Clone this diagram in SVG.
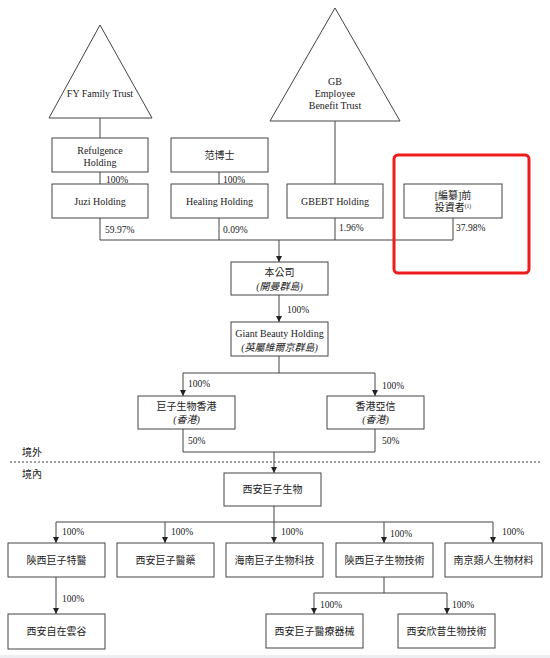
<svg xmlns="http://www.w3.org/2000/svg" width="550" height="658" viewBox="0 0 550 658">
<defs>
<style>
text{font-family:"Liberation Serif","Noto Sans CJK TC",serif;font-size:10px;fill:#222;text-anchor:middle}
.l{text-anchor:start}
.p{font-size:9.5px;text-anchor:start}
.i{font-style:italic}
.sup{font-size:5.5px}
.box{fill:#fff;stroke:#444;stroke-width:1}
.tri{fill:#fff;stroke:#444;stroke-width:1}
.ln{fill:none;stroke:#444;stroke-width:1}
.ar{fill:none;stroke:#444;stroke-width:1;marker-end:url(#ah)}
</style>
<marker id="ah" viewBox="0 0 6 6" refX="6" refY="3" markerWidth="6" markerHeight="6" markerUnits="userSpaceOnUse" orient="auto">
<path d="M0,0 L6,3 L0,6 z" fill="#222"/>
</marker>
</defs>
<rect width="550" height="658" fill="#fff"/>

<g id="connectors">
<line class="ln" x1="100" y1="118" x2="100" y2="138"/>
<line class="ln" x1="335" y1="121" x2="335" y2="184"/>
<line class="ln" x1="100" y1="172" x2="100" y2="184"/>
<line class="ln" x1="219" y1="172" x2="219" y2="184"/>
<polyline class="ln" points="100,218 100,240 453,240 453,218"/>
<line class="ln" x1="219" y1="218" x2="219" y2="240"/>
<line class="ln" x1="335" y1="218" x2="335" y2="240"/>
<line class="ar" x1="279" y1="240" x2="279" y2="262"/>
<line class="ar" x1="279" y1="295" x2="279" y2="322"/>
<polyline class="ln" points="279,356 279,373"/>
<polyline class="ar" points="279,373 183,373 183,396"/>
<polyline class="ar" points="279,373 375,373 375,396"/>
<polyline class="ln" points="183,429 183,452 375,452 375,429"/>
<line class="ar" x1="274" y1="452" x2="274" y2="473"/>
<line class="ln" x1="274" y1="506" x2="274" y2="522"/>
<line class="ln" x1="56" y1="522" x2="493" y2="522"/>
<line class="ar" x1="56" y1="522" x2="56" y2="543"/>
<line class="ar" x1="165" y1="522" x2="165" y2="543"/>
<line class="ar" x1="274" y1="522" x2="274" y2="543"/>
<line class="ar" x1="384" y1="522" x2="384" y2="543"/>
<line class="ar" x1="493" y1="522" x2="493" y2="543"/>
<line class="ar" x1="56" y1="577" x2="56" y2="614"/>
<line class="ln" x1="384" y1="577" x2="384" y2="593"/>
<line class="ln" x1="314" y1="593" x2="447" y2="593"/>
<line class="ar" x1="314" y1="593" x2="314" y2="614"/>
<line class="ar" x1="447" y1="593" x2="447" y2="614"/>
<line x1="10" y1="462" x2="540" y2="462" stroke="#444" stroke-width="1" stroke-dasharray="2,2"/>
</g>

<g id="labels">
<text class="p" x="106" y="182.5">100%</text>
<text class="p" x="223" y="182.5">100%</text>
<text class="p" x="105" y="233">59.97%</text>
<text class="p" x="223" y="233">0.09%</text>
<text class="p" x="339" y="231">1.96%</text>
<text class="p" x="456" y="231">37.98%</text>
<text class="p" x="287" y="313">100%</text>
<text class="p" x="188" y="387">100%</text>
<text class="p" x="382" y="389">100%</text>
<text class="p" x="188" y="444">50%</text>
<text class="p" x="382" y="444">50%</text>
<text class="p" x="62" y="535">100%</text>
<text class="p" x="171" y="535">100%</text>
<text class="p" x="281" y="535">100%</text>
<text class="p" x="390" y="537">100%</text>
<text class="p" x="502" y="535">100%</text>
<text class="p" x="62" y="602">100%</text>
<text class="p" x="320" y="608">100%</text>
<text class="p" x="452" y="608">100%</text>
<text class="l" x="22" y="456">境外</text>
<text class="l" x="22" y="478">境內</text>
</g>

<g id="fy-trust">
<polygon class="tri" points="49,118 100,25 152,118"/>
<text x="100" y="96.5">FY Family Trust</text>
</g>
<g id="gb-trust">
<polygon class="tri" points="270,121 335,8 400,121"/>
<text x="335" y="85">GB</text>
<text x="335" y="97">Employee</text>
<text x="335" y="109">Benefit Trust</text>
</g>
<g id="refulgence">
<rect class="box" x="52" y="138" width="96" height="34"/>
<text x="100" y="153.5">Refulgence</text>
<text x="100" y="165.5">Holding</text>
</g>
<g id="dr-fan">
<rect class="box" x="171" y="138" width="97" height="34"/>
<text x="219.5" y="158.5">范博士</text>
</g>
<g id="juzi">
<rect class="box" x="52" y="184" width="96" height="34"/>
<text x="100" y="204.5">Juzi Holding</text>
</g>
<g id="healing">
<rect class="box" x="171" y="184" width="97" height="34"/>
<text x="219.5" y="204.5">Healing Holding</text>
</g>
<g id="gbebt">
<rect class="box" x="287" y="184" width="96" height="34"/>
<text x="335" y="204.5">GBEBT Holding</text>
</g>
<g id="pre-investors">
<rect class="box" x="404" y="184" width="98" height="34"/>
<text x="453" y="198.5">[編纂]前</text>
<text x="453" y="211">投資者<tspan class="sup" dy="-3.5">(1)</tspan></text>
</g>
<g id="highlight">
<rect x="394" y="155" width="135" height="118" rx="4" fill="none" stroke="#ee1c1c" stroke-width="3"/>
</g>
<g id="company">
<rect class="box" x="231" y="262" width="97" height="33"/>
<text x="279.5" y="275.5">本公司</text>
<text class="i" x="279.5" y="289.5">(開曼群島)</text>
</g>
<g id="giant-beauty">
<rect class="box" x="231" y="322" width="97" height="34"/>
<text x="279.5" y="336.5">Giant Beauty Holding</text>
<text class="i" x="279.5" y="350.5">(英屬維爾京群島)</text>
</g>
<g id="juzi-hk">
<rect class="box" x="138" y="396" width="97" height="33"/>
<text x="186.5" y="409.5">巨子生物香港</text>
<text class="i" x="186.5" y="422.5">(香港)</text>
</g>
<g id="hk-yaxin">
<rect class="box" x="327" y="396" width="97" height="33"/>
<text x="375.5" y="409.5">香港亞信</text>
<text class="i" x="375.5" y="422.5">(香港)</text>
</g>
<g id="xian-juzi">
<rect class="box" x="224" y="473" width="97" height="33"/>
<text x="272.5" y="493">西安巨子生物</text>
</g>
<g id="shaanxi-teyi">
<rect class="box" x="8" y="543" width="97" height="34"/>
<text x="56.5" y="563.5">陝西巨子特醫</text>
</g>
<g id="xian-yiyao">
<rect class="box" x="117" y="543" width="97" height="34"/>
<text x="165.5" y="563.5">西安巨子醫藥</text>
</g>
<g id="hainan">
<rect class="box" x="226" y="543" width="97" height="34"/>
<text x="274.5" y="563.5">海南巨子生物科技</text>
</g>
<g id="shaanxi-tech">
<rect class="box" x="336" y="543" width="97" height="34"/>
<text x="384.5" y="563.5">陝西巨子生物技術</text>
</g>
<g id="nanjing">
<rect class="box" x="445" y="543" width="97" height="34"/>
<text x="493.5" y="563.5">南京類人生物材料</text>
</g>
<g id="xian-zizai">
<rect class="box" x="8" y="614" width="97" height="35"/>
<text x="56.5" y="635">西安自在雲谷</text>
</g>
<g id="xian-qixie">
<rect class="box" x="266" y="614" width="97" height="34"/>
<text x="314.5" y="634.5">西安巨子醫療器械</text>
</g>
<g id="xian-xinxi">
<rect class="box" x="398" y="614" width="97" height="34"/>
<text x="446.5" y="634.5">西安欣昔生物技術</text>
</g>
<rect x="0" y="655" width="550" height="3" fill="#eceef2"/>
</svg>
